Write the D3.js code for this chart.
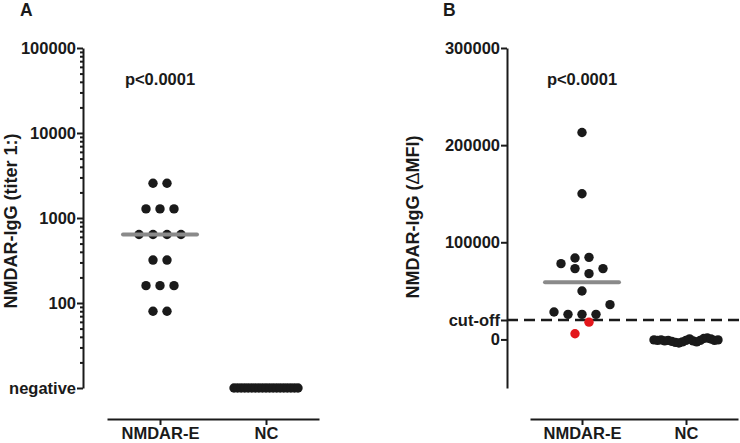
<!DOCTYPE html>
<html><head><meta charset="utf-8">
<script src="https://cdn.jsdelivr.net/npm/d3@7"></script>
<style>
body{margin:0;background:#fff}
svg{display:block}
text{font-family:"Liberation Sans",Arial,Helvetica,sans-serif;font-weight:bold;fill:#1a1a1a}
</style>
</head><body>
<svg id="chart" width="740" height="443"></svg>
<script>
// ---------- DATA ----------
const groups = ["NMDAR-E", "NC"];
const pValueText = "p<0.0001";

// Panel A: NMDAR-IgG titers (1:x); 10 stands for "negative"
const titerNMDARE = [2560, 2560, 1280, 1280, 1280, 640, 640, 640, 640, 320, 320, 160, 160, 160, 80, 80];
const titerNC = [10, 10, 10, 10, 10, 10, 10, 10, 10, 10, 10, 10, 10, 10, 10, 10, 10, 10, 10];
const titerTicks = [10, 100, 1000, 10000, 100000];
const titerTickLabels = ["negative", "100", "1000", "10000", "100000"];

// Panel B: NMDAR-IgG (ΔMFI), NMDAR-E grouped in swarm rows
const mfiNMDARERows = [[213000], [150000], [83800, 84500], [78000, 72900, 67700, 72900], [49800], [28200, 25800, 25800, 25800, 35800]];
const mfiNMDAREBelowCutoff = [5800, 17800];
const mfiNC = [-500, -1000, -500, -1500, -1000, -2000, -3000, -3700, -2500, -1000, 500, -1500, -2500, -1000, 1000, 1500, 500, -1000, -500];
const mfiTicks = [0, 100000, 200000, 300000];
const mfiCutoff = 20000;
const cutoffLabel = "cut-off";

// ---------- DRAWING ----------
const svg = d3.select("#chart");
const ink = "#1a1a1a", red = "#e3161b", gray = "#8a8a8a";
const R = 4.7, STEP = 14, MAXW = 64, MED_HALF = 37;

function rowOffsets(n) {
  const step = n > 1 ? Math.min(STEP, MAXW / (n - 1)) : 0;
  return d3.range(n).map(i => (i - (n - 1) / 2) * step);
}
function styleAxis(g, fs) {
  g.attr("font-size", fs).attr("font-family", null);
  g.selectAll(".domain, .tick line").attr("stroke", ink).attr("stroke-width", 2);
  g.selectAll("text").attr("fill", ink);
}

// ----- Panel A -----
const xA = d3.scalePoint().domain(groups).range([107, 319]).padding(0.5);
const yA = d3.scaleLog().domain([10, 100000]).range([388, 48]);

const gyA = svg.append("g").attr("transform", "translate(83,0)")
  .call(d3.axisLeft(yA).tickValues(titerTicks).tickFormat((d, i) => titerTickLabels[i])
    .tickSize(6).tickSizeOuter(0).tickPadding(1));
styleAxis(gyA, 16.5);
const minor = yA.ticks().filter(d => !titerTicks.includes(d));
const gmA = svg.append("g").attr("transform", "translate(83,0)")
  .call(d3.axisLeft(yA).tickValues(minor).tickFormat("").tickSize(3).tickSizeOuter(0));
gmA.select(".domain").remove();
styleAxis(gmA, 10);

const gxA = svg.append("g").attr("transform", "translate(0,419)")
  .call(d3.axisBottom(xA).tickSize(6).tickSizeOuter(0).tickPadding(2));
styleAxis(gxA, 16.5);

function rowsByValue(vals) {
  return Array.from(d3.group(vals, v => v).values());
}
const ptsA = [];
[[titerNMDARE, "NMDAR-E"], [titerNC, "NC"]].forEach(([vals, grp]) => {
  rowsByValue(vals).forEach(row => {
    const off = rowOffsets(row.length);
    row.forEach((v, i) => ptsA.push({x: xA(grp) + off[i], y: yA(v)}));
  });
});
svg.append("g").selectAll("circle").data(ptsA).join("circle")
  .attr("cx", d => d.x).attr("cy", d => d.y).attr("r", R).attr("fill", ink);

const medA = d3.median(titerNMDARE);
svg.append("line").attr("x1", xA("NMDAR-E") - MED_HALF).attr("x2", xA("NMDAR-E") + MED_HALF)
  .attr("y1", yA(medA)).attr("y2", yA(medA)).attr("stroke", gray).attr("stroke-width", 4)
  .attr("stroke-linecap", "round");

svg.append("text").attr("x", xA("NMDAR-E")).attr("y", 85).attr("text-anchor", "middle")
  .attr("font-size", 16.5).text(pValueText);
svg.append("text").attr("transform", "translate(16.5,221) rotate(-90)").attr("text-anchor", "middle")
  .attr("font-size", 18).text("NMDAR-IgG (titer 1:)");
svg.append("text").attr("x", 20).attr("y", 15.5).attr("font-size", 17.5).text("A");

// ----- Panel B -----
const xB = d3.scalePoint().domain(groups).range([530, 738]).padding(0.5);
const yB = d3.scaleLinear().domain([-50000, 300000]).range([388, 48]);
const fmt = d3.format("d");

const gyB = svg.append("g").attr("transform", "translate(507,0)")
  .call(d3.axisLeft(yB).tickValues([...mfiTicks, mfiCutoff])
    .tickFormat(d => d === mfiCutoff ? cutoffLabel : fmt(d))
    .tickSize(6).tickSizeOuter(0).tickPadding(1));
styleAxis(gyB, 16.5);

const gxB = svg.append("g").attr("transform", "translate(0,419)")
  .call(d3.axisBottom(xB).tickSize(6).tickSizeOuter(0).tickPadding(2));
styleAxis(gxB, 16.5);

svg.append("line").attr("x1", 507).attr("x2", 740)
  .attr("y1", yB(mfiCutoff)).attr("y2", yB(mfiCutoff))
  .attr("stroke", ink).attr("stroke-width", 2.5).attr("stroke-dasharray", "11,6");

const ptsB = [];
mfiNMDARERows.forEach(row => {
  const off = rowOffsets(row.length);
  row.forEach((v, i) => ptsB.push({x: xB("NMDAR-E") + off[i], y: yB(v), c: ink}));
});
{
  const off = rowOffsets(mfiNMDAREBelowCutoff.length);
  mfiNMDAREBelowCutoff.forEach((v, i) => ptsB.push({x: xB("NMDAR-E") + off[i], y: yB(v), c: red}));
}
{
  const off = rowOffsets(mfiNC.length);
  mfiNC.forEach((v, i) => ptsB.push({x: xB("NC") + off[i], y: yB(v), c: ink}));
}
svg.append("g").selectAll("circle").data(ptsB).join("circle")
  .attr("cx", d => d.x).attr("cy", d => d.y).attr("r", R).attr("fill", d => d.c);

const allB = mfiNMDARERows.flat().concat(mfiNMDAREBelowCutoff);
const medB = d3.median(allB);
svg.append("line").attr("x1", xB("NMDAR-E") - MED_HALF).attr("x2", xB("NMDAR-E") + MED_HALF)
  .attr("y1", yB(medB)).attr("y2", yB(medB)).attr("stroke", gray).attr("stroke-width", 4)
  .attr("stroke-linecap", "round");

svg.append("text").attr("x", xB("NMDAR-E")).attr("y", 85).attr("text-anchor", "middle")
  .attr("font-size", 16.5).text(pValueText);
const tB = svg.append("text").attr("transform", "translate(419,217) rotate(-90)").attr("text-anchor", "middle")
  .attr("font-size", 18);
tB.append("tspan").text("NMDAR-IgG (");
tB.append("tspan").attr("font-weight", "normal").text("Δ");
tB.append("tspan").text("MFI)");
svg.append("text").attr("x", 443).attr("y", 15.5).attr("font-size", 17.5).text("B");
</script>
</body></html>
